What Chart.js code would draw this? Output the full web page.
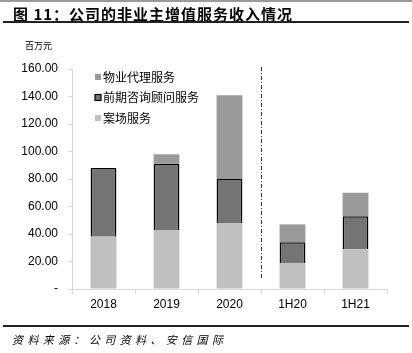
<!DOCTYPE html>
<html>
<head>
<meta charset="utf-8">
<script src="https://cdn.jsdelivr.net/npm/chart.js@4.4.0/dist/chart.umd.min.js"></script>
<style>
    body { margin: 0; background: #fff; }
    #wrap { position: relative; width: 412px; height: 353px; overflow: hidden; }
    #chart { position: absolute; left: 0; top: 0; }
    .topline { position: absolute; left: 0; top: 0; width: 412px; height: 2px; background: #9a9a9a; }
    .title { position: absolute; left: 13px; top: 3px; font: bold 15px "Noto Sans CJK SC", sans-serif; letter-spacing: 1px; color: #000; }
    .rule { position: absolute; left: 3px; width: 406px; height: 2px; background: #222; }
    .unit { position: absolute; left: 25px; top: 39px; font: 9px "Noto Sans CJK SC", sans-serif; color: #000; }
    .source { position: absolute; left: 12px; top: 331px; width: 211px; font: italic 11px "Noto Sans CJK SC", sans-serif;
              text-align: justify; text-align-last: justify; color: #000; }
</style>
</head>
<body>
<div id="wrap">
    <canvas id="chart" width="412" height="353"></canvas>
    <div class="topline"></div>
    <div class="title">图 11：公司的非业主增值服务收入情况</div>
    <div class="rule" style="top:21px"></div>
    <div class="unit">百万元</div>
    <div class="rule" style="top:325px"></div>
    <div class="source">资料来源：公司资料、安信国际</div>
</div>
<script>
const categories = ['2018', '2019', '2020', '1H20', '1H21'];
const onSite = [38, 43, 48, 19, 29];        // 案场服务
const consulting = [50, 48, 32, 15, 24];    // 前期咨询顾问服务
const agency = [0, 7, 61, 13, 17];          // 物业代理服务
const yTicks = [0, 20, 40, 60, 80, 100, 120, 140, 160];

// dash-dot divider between full years and half years
const dividerPlugin = {
    id: 'divider',
    afterDatasetsDraw(chart) {
        const x = chart.scales.x;
        const area = chart.chartArea;
        const px = (x.getPixelForValue(2) + x.getPixelForValue(3)) / 2;
        const ctx = chart.ctx;
        ctx.save();
        ctx.strokeStyle = '#333';
        ctx.lineWidth = 1;
        ctx.setLineDash([4, 2, 1, 2]);
        ctx.beginPath();
        ctx.moveTo(Math.round(px) + 0.5, area.top - 2);
        ctx.lineTo(Math.round(px) + 0.5, area.bottom - 11);
        ctx.stroke();
        ctx.restore();
    }
};

// legend drawn inside the plot, top-left, reversed order
const legendPlugin = {
    id: 'innerLegend',
    afterDraw(chart) {
        const ctx = chart.ctx;
        const sets = chart.data.datasets.slice().reverse();
        ctx.save();
        ctx.font = '12px "Noto Sans CJK SC", sans-serif';
        ctx.textBaseline = 'middle';
        sets.forEach((ds, i) => {
            const y = 77 + i * 20.5;
            ctx.fillStyle = ds.backgroundColor;
            ctx.fillRect(95, y - 3, 6, 6);
            if (ds.borderWidth) {
                ctx.strokeStyle = '#000';
                ctx.lineWidth = 1.2;
                ctx.strokeRect(95, y - 3, 6, 6);
            }
            ctx.fillStyle = '#000';
            ctx.fillText(ds.label, 103, y);
        });
        ctx.restore();
    }
};

new Chart(document.getElementById('chart'), {
    type: 'bar',
    data: {
        labels: categories,
        datasets: [
            { label: '案场服务', data: onSite, backgroundColor: '#c0c0c0', borderWidth: 0 },
            { label: '前期咨询顾问服务', data: consulting, backgroundColor: '#747474', borderColor: '#000', borderWidth: 1.5 },
            { label: '物业代理服务', data: agency, backgroundColor: '#9a9a9a', borderWidth: 0 }
        ]
    },
    options: {
        responsive: false,
        animation: false,
        layout: { padding: { left: 0, right: 25, top: 69, bottom: 0 } },
        plugins: { legend: { display: false }, tooltip: { enabled: false } },
        datasets: { bar: { barPercentage: 0.41, categoryPercentage: 1 } },
        scales: {
            x: {
                stacked: true,
                afterFit(scale) { scale.height = 64; },
                grid: { display: true, drawOnChartArea: false, offset: true, tickLength: 5, color: '#d9d9d9' },
                border: { color: '#d9d9d9' },
                ticks: { color: '#000', padding: 3, font: { family: 'Liberation Sans', size: 12 } }
            },
            y: {
                stacked: true,
                min: 0,
                max: 160,
                afterFit(scale) { scale.width = 72; },
                afterBuildTicks(scale) { scale.ticks = yTicks.map(v => ({ value: v })); },
                grid: { display: true, drawOnChartArea: false, tickLength: 4, color: '#d9d9d9' },
                border: { color: '#d9d9d9' },
                ticks: {
                    color: '#000',
                    padding: 10,
                    font: { family: 'Liberation Sans', size: 12 },
                    callback: v => v === 0 ? '-' : v.toFixed(2)
                }
            }
        }
    },
    plugins: [dividerPlugin, legendPlugin]
});
</script>
</body>
</html>
